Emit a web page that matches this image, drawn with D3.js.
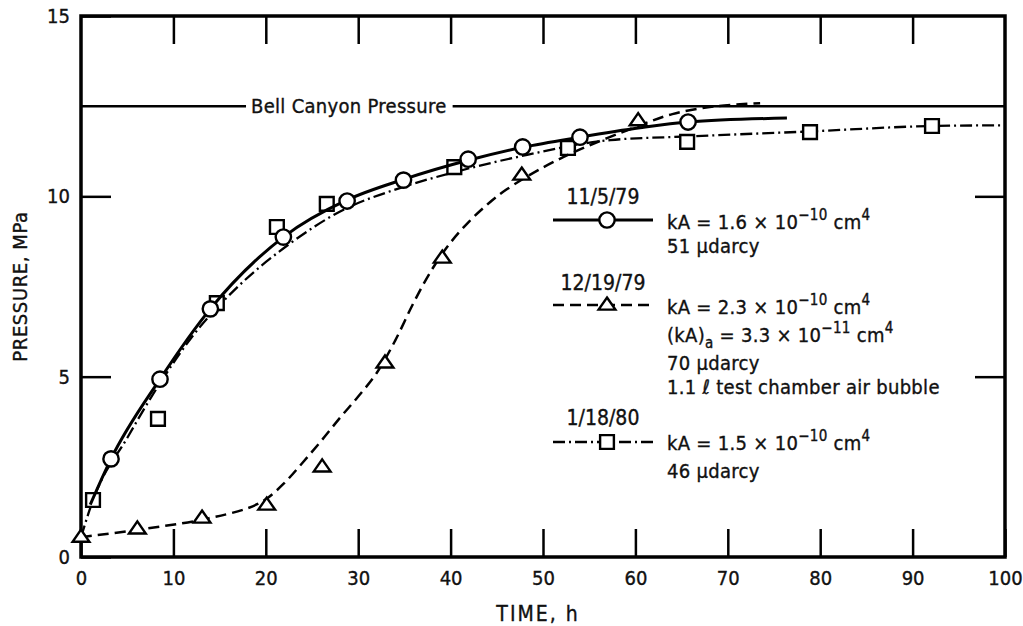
<!DOCTYPE html>
<html>
<head>
<meta charset="utf-8">
<script src="https://cdn.jsdelivr.net/npm/d3@7"></script>
<style>
  body { margin: 0; background: #fff; }
  text { font-family: "DejaVu Sans Condensed", "DejaVu Sans", sans-serif; fill: #111; stroke: #111; stroke-width: 0.35px; }
</style>
</head>
<body>
<div id="chart"></div>
<script>
// tick values
const xTicks = [0, 10, 20, 30, 40, 50, 60, 70, 80, 90, 100];
const yTicks = [0, 5, 10, 15];
const frameTicksX = [10, 20, 30, 40, 50, 60, 70, 80, 90];
const frameTicksY = [5, 10];
const bellCanyon = 12.5;

// 11/5/79 test: measured points and fitted curve (time h, pressure MPa)
const nov79Points = [
  [3.25, 2.72], [8.55, 4.93], [14.0, 6.88], [21.9, 8.87], [28.8, 9.87],
  [34.9, 10.45], [41.9, 11.03], [47.8, 11.37], [54.0, 11.64], [65.7, 12.06]
];
const nov79Curve = [
  [1.0, 1.45], [3.25, 2.72], [8.55, 4.93], [14.0, 6.88], [21.9, 8.87],
  [28.8, 9.9], [34.9, 10.47], [41.9, 11.0], [47.8, 11.36], [54.0, 11.64],
  [60.5, 11.9], [65.7, 12.06], [76.4, 12.17]
];

// 12/19/79 test
const dec79Points = [
  [0, 0.55], [6.1, 0.78], [13.1, 1.08], [20.1, 1.44], [26.1, 2.5],
  [32.9, 5.38], [39.1, 8.29], [47.7, 10.59], [60.3, 12.1]
];
const dec79Curve = [
  [0, 0.55], [6.0, 0.75], [13.0, 1.03], [18.0, 1.35], [20.0, 1.6],
  [22.0, 2.05], [24.0, 2.62], [26.0, 3.22], [28.0, 3.85], [30.0, 4.45],
  [32.0, 5.1], [34.0, 6.0], [36.0, 7.05], [38.0, 7.98], [40.0, 8.72],
  [42.0, 9.3], [44.0, 9.78], [46.0, 10.18], [50.0, 10.8], [54.0, 11.3],
  [60.0, 11.92], [64.0, 12.28], [68.8, 12.5], [73.5, 12.58]
];

// 1/18/80 test
const jan80Points = [
  [1.3, 1.58], [8.33, 3.83], [14.7, 7.04], [21.2, 9.15], [26.6, 9.79],
  [40.4, 10.81], [52.7, 11.34], [65.6, 11.51], [78.9, 11.78], [92.1, 11.95]
];
const jan80Curve = [
  [0, 0.55], [1.3, 1.58], [5.0, 3.3], [8.5, 4.8], [12.0, 6.1], [17.0, 7.5],
  [22.4, 8.65], [28.2, 9.6], [34.5, 10.23], [40.4, 10.67], [47.2, 11.09],
  [57.3, 11.56], [65.6, 11.66], [78.9, 11.8], [92.1, 11.95], [100, 11.97]
];

// legend text: each line is a list of [text, kind] segments
const legendDates = ["11/5/79", "12/19/79", "1/18/80"];
const legendLines = [
  [
    [["kA = 1.6 × 10", ""], ["−10", "sup"], [" cm", ""], ["4", "sup"]],
    [["51 μdarcy", ""]]
  ],
  [
    [["kA = 2.3 × 10", ""], ["−10", "sup"], [" cm", ""], ["4", "sup"]],
    [["(kA)", ""], ["a", "sub"], [" = 3.3 × 10", ""], ["−11", "sup"], [" cm", ""], ["4", "sup"]],
    [["70 μdarcy", ""]],
    [["1.1 ℓ test chamber air bubble", ""]]
  ],
  [
    [["kA = 1.5 × 10", ""], ["−10", "sup"], [" cm", ""], ["4", "sup"]],
    [["46 μdarcy", ""]]
  ]
];

class PressureChart {
  constructor() {
    this.width = 1023;
    this.height = 626;
    this.svg = d3.select("#chart").append("svg")
      .attr("width", this.width)
      .attr("height", this.height);

    this.xScale = d3.scaleLinear().domain([0, 100]).range([81, 1005]);
    this.yScale = d3.scaleLinear().domain([0, 15]).range([557, 16]);

    // flatter triangle, like the drawn ones
    const flatTriangle = {
      draw(context, size) {
        const w = Math.sqrt(size) * 0.82, h = w * 0.72;
        context.moveTo(0, -h * 0.62);
        context.lineTo(w / 2, h * 0.38);
        context.lineTo(-w / 2, h * 0.38);
        context.closePath();
      }
    };

    this.styles = {
      solid: { width: 3, dash: null, symbol: d3.symbolCircle, size: 185, curve: d3.curveMonotoneX },
      dashed: { width: 2.5, dash: "11,6", symbol: flatTriangle, size: 420, curve: d3.curveCatmullRom.alpha(0.5) },
      dashdot: { width: 2.3, dash: "12,4,2,4", symbol: d3.symbolSquare, size: 190, curve: d3.curveMonotoneX }
    };
  }

  drawAxes() {
    const x = this.xScale, y = this.yScale;

    // bottom axis with inward ticks
    const bottom = this.svg.append("g")
      .attr("transform", `translate(0, ${y(0)})`)
      .call(d3.axisBottom(x).tickValues(xTicks).tickSizeInner(-28).tickSizeOuter(0).tickPadding(14));

    // left axis with inward ticks
    const left = this.svg.append("g")
      .attr("transform", `translate(${x(0)}, 0)`)
      .call(d3.axisLeft(y).tickValues(yTicks).tickSizeInner(-30).tickSizeOuter(0).tickPadding(11));

    // top and right frame ticks, no labels
    const top = this.svg.append("g")
      .attr("transform", `translate(0, ${y(15)})`)
      .call(d3.axisTop(x).tickValues(frameTicksX).tickSizeInner(-28).tickSizeOuter(0).tickFormat(""));
    const right = this.svg.append("g")
      .attr("transform", `translate(${x(100)}, 0)`)
      .call(d3.axisRight(y).tickValues(frameTicksY).tickSizeInner(-30).tickSizeOuter(0).tickFormat(""));

    [bottom, left, top, right].forEach((g) => {
      g.select(".domain").remove();
      g.selectAll(".tick line").attr("stroke", "#000").attr("stroke-width", 2.5);
      g.selectAll(".tick text").style("font-size", "20px").attr("fill", "#111");
    });

    // frame
    this.svg.append("rect")
      .attr("x", x(0)).attr("y", y(15))
      .attr("width", x(100) - x(0)).attr("height", y(0) - y(15))
      .attr("fill", "none").attr("stroke", "#000").attr("stroke-width", 3.5);

    // axis titles
    this.svg.append("text")
      .text("TIME, h")
      .style("font-size", "21px")
      .style("letter-spacing", "2px")
      .style("text-anchor", "middle")
      .attr("transform", `translate(${(x(0) + x(100)) / 2 - 5}, 621)`);

    this.svg.append("text")
      .text("PRESSURE, MPa")
      .style("font-size", "20px")
      .style("letter-spacing", "0.6px")
      .style("text-anchor", "middle")
      .attr("transform", `translate(27, ${(y(0) + y(15)) / 2})rotate(-90)`);
  }

  drawBellCanyon() {
    const x = this.xScale, y = this.yScale;
    const label = this.svg.append("text")
      .text("Bell Canyon Pressure")
      .style("font-size", "20px")
      .style("letter-spacing", "0.3px")
      .attr("x", x(18.4))
      .attr("y", y(bellCanyon) + 7);
    const box = label.node().getBBox();

    // line broken around the label
    [[x(0), box.x - 5], [box.x + box.width + 6, x(100)]].forEach(([x1, x2]) => {
      this.svg.append("line")
        .attr("x1", x1).attr("x2", x2)
        .attr("y1", y(bellCanyon)).attr("y2", y(bellCanyon))
        .attr("stroke", "#000").attr("stroke-width", 2.5);
    });
  }

  drawSeries(curve, points, style) {
    const x = this.xScale, y = this.yScale;
    const s = this.styles[style];

    let lineGenerator = d3.line()
      .x((d) => x(d[0]))
      .y((d) => y(d[1]))
      .curve(s.curve);

    this.svg.append("path")
      .datum(curve)
      .attr("d", lineGenerator)
      .attr("fill", "none")
      .attr("stroke", "#000")
      .attr("stroke-width", s.width)
      .attr("stroke-dasharray", s.dash);

    this.svg.append("g")
      .selectAll("path")
      .data(points)
      .join("path")
      .attr("d", d3.symbol(s.symbol, s.size))
      .attr("transform", (d) => `translate(${x(d[0])}, ${y(d[1])})`)
      .attr("fill", "#fff")
      .attr("stroke", "#000")
      .attr("stroke-width", 2.4);
  }

  drawLegend() {
    const entries = ["solid", "dashed", "dashdot"];
    // baselines for date label, sample line, and text lines of each entry
    const layout = [
      { date: 204, sample: 220, lines: [229, 253] },
      { date: 290, sample: 305, lines: [314, 342, 370, 394] },
      { date: 425, sample: 442, lines: [450, 478] }
    ];

    entries.forEach((style, i) => {
      const s = this.styles[style];
      const L = layout[i];

      this.svg.append("text")
        .text(legendDates[i])
        .style("font-size", "21px")
        .style("text-anchor", "middle")
        .attr("x", 603)
        .attr("y", L.date);

      this.svg.append("line")
        .attr("x1", 553).attr("x2", 653)
        .attr("y1", L.sample).attr("y2", L.sample)
        .attr("stroke", "#000")
        .attr("stroke-width", s.width)
        .attr("stroke-dasharray", s.dash);

      this.svg.append("path")
        .attr("d", d3.symbol(s.symbol, s.size))
        .attr("transform", `translate(607, ${L.sample})`)
        .attr("fill", "#fff")
        .attr("stroke", "#000")
        .attr("stroke-width", 2.4);

      legendLines[i].forEach((segments, j) => {
        const t = this.svg.append("text")
          .style("font-size", "20px")
          .style("letter-spacing", "0.3px")
          .attr("x", 667)
          .attr("y", L.lines[j]);
        let shift = 0;
        segments.forEach(([str, kind]) => {
          const target = kind === "sup" ? -9 : kind === "sub" ? 6 : 0;
          t.append("tspan")
            .attr("dy", target - shift)
            .style("font-size", kind ? "15px" : "20px")
            .text(str);
          shift = target;
        });
      });
    });
  }
}

const chart = new PressureChart();
chart.drawAxes();
chart.drawBellCanyon();
chart.drawSeries(jan80Curve, jan80Points, "dashdot");
chart.drawSeries(dec79Curve, dec79Points, "dashed");
chart.drawSeries(nov79Curve, nov79Points, "solid");
chart.drawLegend();
</script>
</body>
</html>
